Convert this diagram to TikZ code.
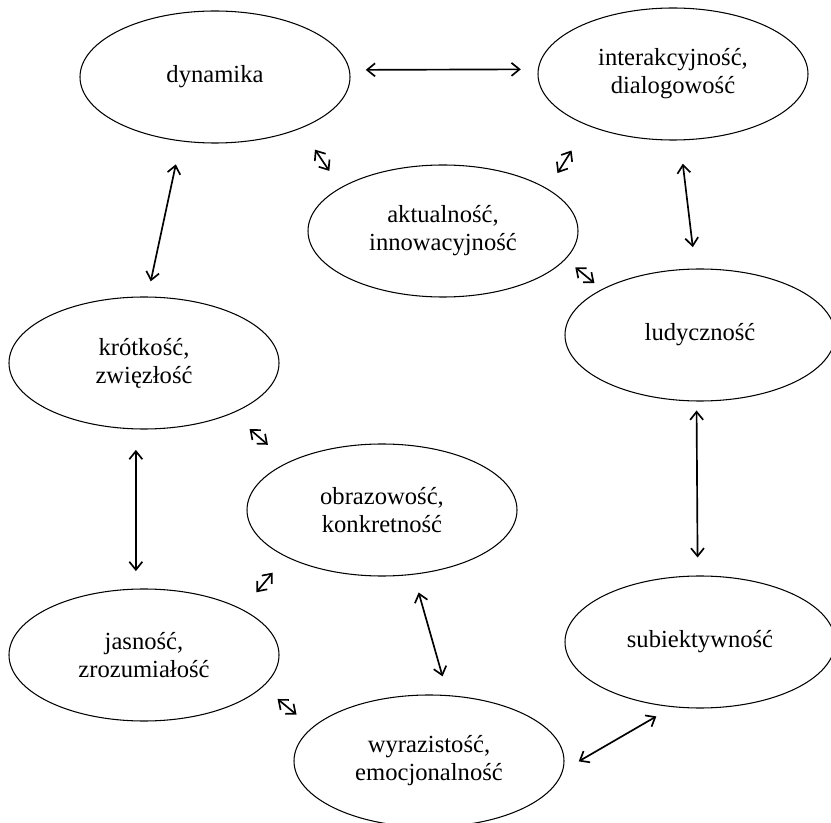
\documentclass[tikz,border=0pt]{standalone}
\usepackage{fontspec}
\setmainfont{Liberation Serif}
\usetikzlibrary{shapes.geometric,arrows.meta}
\tikzset{
  el/.style={ellipse, draw, line width=0.6pt, inner sep=0pt,
             minimum width=5.4cm, minimum height=2.64cm, align=center,
             font=\fontsize{14}{16}\selectfont},
  dbl/.style={{Straight Barb[length=1.6mm,width=2.6mm]}-{Straight Barb[length=1.6mm,width=2.6mm]},
              line width=0.95pt}
}
\begin{document}
\begin{tikzpicture}
  \useasboundingbox (0,0) rectangle (16.62,-16.46);
  % ellipses
  \node[el] (dyn) at (4.30,-1.54) {dynamika};
  \node[el] (int) at (13.46,-1.48) {interakcyjność,\\dialogowość};
  \node[el] (akt) at (8.86,-4.62) {aktualność,\\innowacyjność};
  \node[el] (lud) at (14.00,-6.70) {ludyczność};
  \node[el] (kro) at (2.88,-7.26) {krótkość,\\zwięzłość};
  \node[el] (obr) at (7.64,-10.20) {obrazowość,\\konkretność};
  \node[el] (sub) at (14.00,-12.84) {subiektywność};
  \node[el] (jas) at (2.88,-13.10) {jasność,\\zrozumiałość};
  \node[el] (wyr) at (8.58,-15.22) {wyrazistość,\\emocjonalność};
  % links
  \draw[dbl, shorten <=0.32cm, shorten >=0.34cm] (dyn.3) -- (int.178);
  \draw[dbl, shorten <=0.51cm, shorten >=0.40cm] (dyn.-31.4) -- (akt.157.4);
  \draw[dbl, shorten <=0.59cm, shorten >=0.37cm] (int.211.6) -- (akt.22.8);
  \draw[dbl, shorten <=0.25cm, shorten >=0.19cm] (akt.-13.2) -- (lud.155.1);
  \draw[dbl, shorten <=0.47cm, shorten >=0.43cm] (int.-84.5) -- (lud.94.9);
  \draw[dbl, shorten <=0.47cm, shorten >=0.31cm] (dyn.-118.4) -- (kro.87.6);
  \draw[dbl, shorten <=0.47cm, shorten >=0.53cm] (kro.-30.8) -- (obr.153.7);
  \draw[dbl, shorten <=0.41cm, shorten >=0.35cm] (kro.-97.9) -- (jas.97.8);
  \draw[dbl, shorten <=0.41cm, shorten >=0.44cm] (obr.206.2) -- (jas.25.8);
  \draw[dbl, shorten <=0.37cm, shorten >=0.39cm] (obr.-64.2) -- (wyr.74.4);
  \draw[dbl, shorten <=0.18cm, shorten >=0.36cm] (lud.-93) -- (sub.92);
  \draw[dbl, shorten <=0.37cm, shorten >=0.36cm] (sub.-113.5) -- (wyr.-4.3);
  \draw[dbl, shorten <=0.38cm, shorten >=0.40cm] (jas.-15.4) -- (wyr.164.7);
\end{tikzpicture}
\end{document}
